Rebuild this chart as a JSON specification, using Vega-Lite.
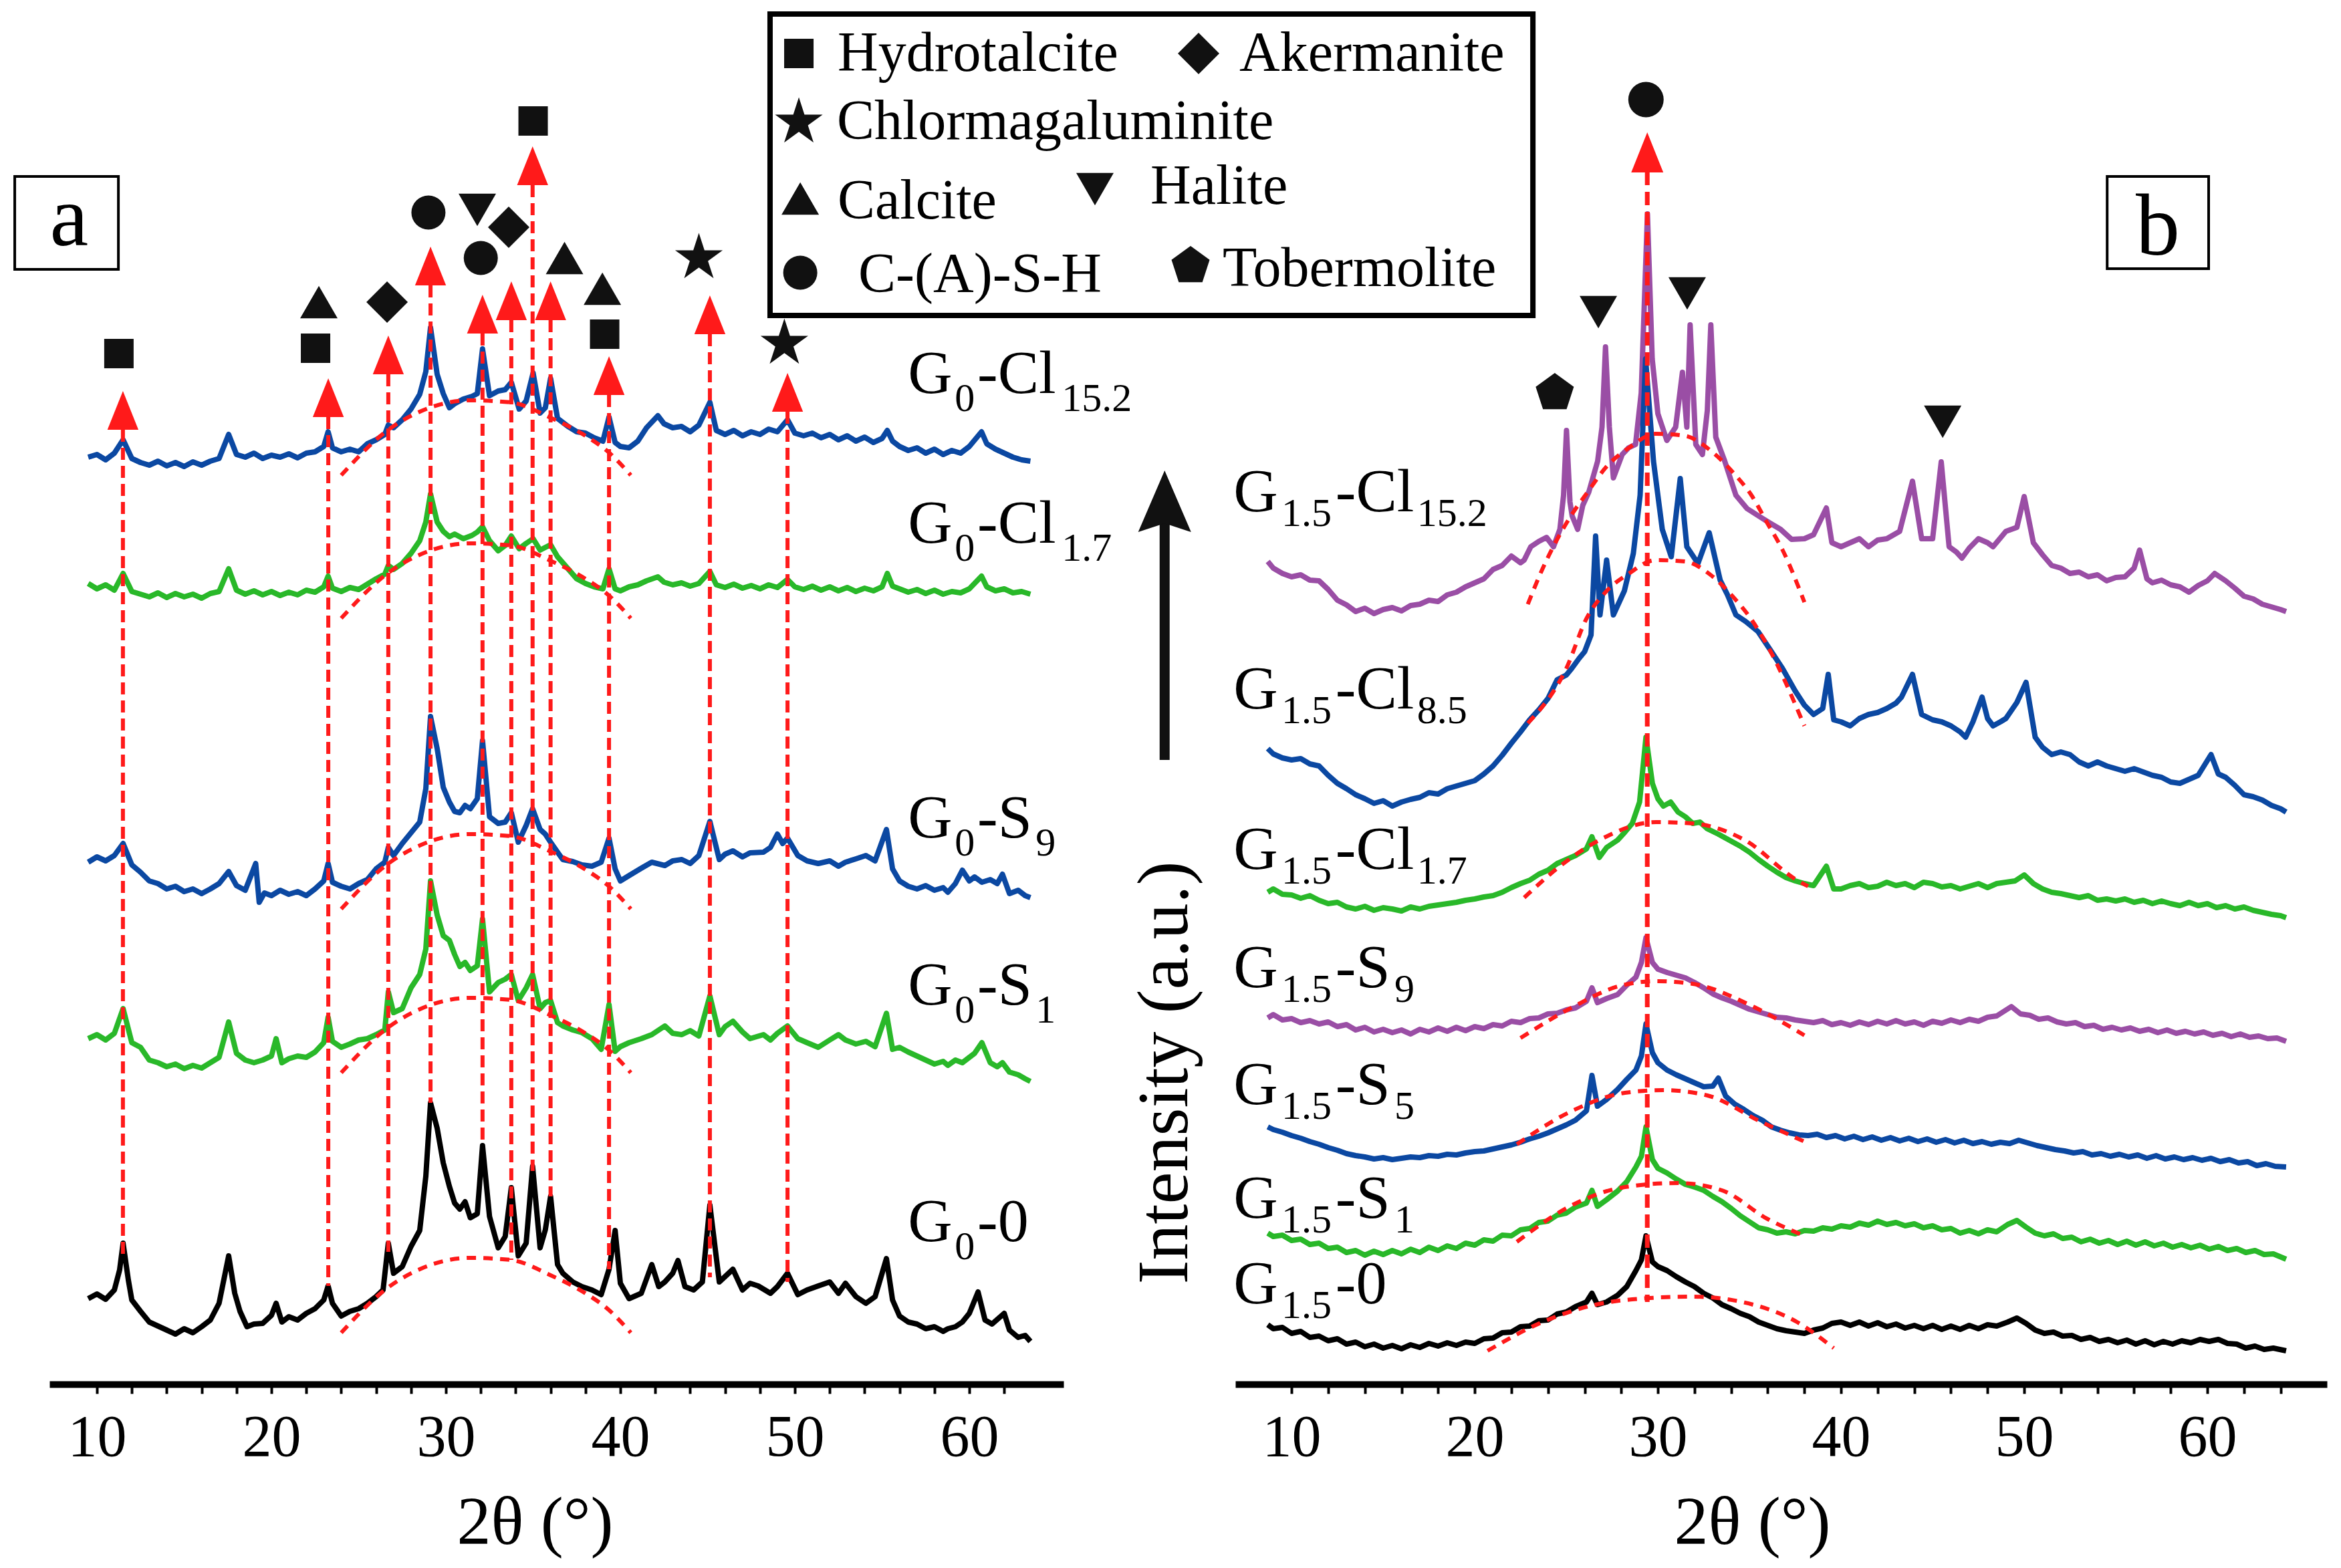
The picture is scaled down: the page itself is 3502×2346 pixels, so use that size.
{
  "$schema": "https://vega.github.io/schema/vega-lite/v6.json",
  "width": 3502,
  "height": 2071,
  "autosize": "none",
  "padding": {"left": 0, "top": 0, "right": 0, "bottom": 275},
  "background": "white",
  "config": {
    "view": {"stroke": null},
    "axis": {
      "domainColor": "black", "domainWidth": 10, "tickColor": "black", "tickWidth": 4, "tickSize": 14,
      "labelFont": "Liberation Serif", "labelFontSize": 88, "labelColor": "black", "labelPadding": 22,
      "labelFlush": false, "labelOverlap": false, "grid": false,
      "titleFont": "Liberation Serif", "titleFontSize": 102, "titleFontWeight": "normal", "titleColor": "black",
      "titleBaseline": "alphabetic", "titleY": 238
    },
    "text": {"font": "Liberation Serif", "color": "black"},
    "point": {"filled": true, "color": "#111111", "opacity": 1},
    "line": {"strokeWidth": 8, "strokeJoin": "round"}
  },
  "datasets": {
    "a1": [{"x":9.5,"y":1387},{"x":10,"y":1391},{"x":10.5,"y":1383},{"x":11,"y":1393},{"x":11.5,"y":1413},{"x":12,"y":1385},{"x":12.5,"y":1379},{"x":13,"y":1375},{"x":13.5,"y":1381},{"x":14,"y":1374},{"x":14.5,"y":1379},{"x":15,"y":1373},{"x":15.5,"y":1380},{"x":16,"y":1375},{"x":16.5,"y":1381},{"x":17,"y":1385},{"x":17.55,"y":1421},{"x":18,"y":1391},{"x":18.5,"y":1387},{"x":19,"y":1393},{"x":19.5,"y":1385},{"x":20,"y":1390},{"x":20.5,"y":1387},{"x":21,"y":1392},{"x":21.5,"y":1386},{"x":22,"y":1393},{"x":22.5,"y":1395},{"x":23,"y":1403},{"x":23.25,"y":1425},{"x":23.5,"y":1401},{"x":24,"y":1395},{"x":24.5,"y":1399},{"x":25,"y":1395},{"x":25.5,"y":1407},{"x":26,"y":1413},{"x":26.5,"y":1421},{"x":26.7,"y":1435},{"x":27,"y":1431},{"x":27.5,"y":1443},{"x":28,"y":1459},{"x":28.5,"y":1481},{"x":28.85,"y":1515},{"x":29.12,"y":1581},{"x":29.5,"y":1511},{"x":29.85,"y":1482},{"x":30.2,"y":1461},{"x":30.5,"y":1467},{"x":31,"y":1474},{"x":31.5,"y":1478},{"x":31.8,"y":1482},{"x":32.1,"y":1549},{"x":32.5,"y":1479},{"x":33,"y":1486},{"x":33.4,"y":1488},{"x":33.75,"y":1499},{"x":34.2,"y":1459},{"x":34.6,"y":1471},{"x":35,"y":1513},{"x":35.4,"y":1453},{"x":35.7,"y":1461},{"x":36,"y":1505},{"x":36.4,"y":1445},{"x":37,"y":1433},{"x":37.5,"y":1425},{"x":38,"y":1423},{"x":38.5,"y":1416},{"x":39,"y":1411},{"x":39.35,"y":1447},{"x":39.7,"y":1409},{"x":40,"y":1403},{"x":40.5,"y":1401},{"x":41,"y":1411},{"x":41.5,"y":1431},{"x":42.15,"y":1449},{"x":42.5,"y":1437},{"x":43,"y":1431},{"x":43.5,"y":1433},{"x":44,"y":1425},{"x":44.5,"y":1435},{"x":45.13,"y":1469},{"x":45.5,"y":1427},{"x":46,"y":1421},{"x":46.5,"y":1427},{"x":47,"y":1419},{"x":47.5,"y":1425},{"x":48,"y":1421},{"x":48.5,"y":1429},{"x":49,"y":1425},{"x":49.58,"y":1443},{"x":50,"y":1423},{"x":50.5,"y":1419},{"x":51,"y":1423},{"x":51.5,"y":1416},{"x":52,"y":1421},{"x":52.5,"y":1413},{"x":53,"y":1419},{"x":53.5,"y":1411},{"x":54,"y":1417},{"x":54.5,"y":1409},{"x":55,"y":1415},{"x":55.3,"y":1427},{"x":55.6,"y":1411},{"x":56,"y":1403},{"x":56.5,"y":1397},{"x":57,"y":1401},{"x":57.5,"y":1393},{"x":58,"y":1399},{"x":58.5,"y":1391},{"x":59,"y":1397},{"x":59.5,"y":1393},{"x":60,"y":1403},{"x":60.7,"y":1425},{"x":61,"y":1407},{"x":61.5,"y":1399},{"x":62,"y":1393},{"x":62.5,"y":1387},{"x":63,"y":1383},{"x":63.5,"y":1381}],
    "a2": [{"x":9.5,"y":1198},{"x":10,"y":1190},{"x":10.5,"y":1196},{"x":11,"y":1188},{"x":11.5,"y":1213},{"x":12,"y":1186},{"x":12.5,"y":1182},{"x":13,"y":1178},{"x":13.5,"y":1184},{"x":14,"y":1177},{"x":14.5,"y":1183},{"x":15,"y":1178},{"x":15.5,"y":1182},{"x":16,"y":1176},{"x":16.5,"y":1183},{"x":17,"y":1186},{"x":17.55,"y":1220},{"x":18,"y":1188},{"x":18.5,"y":1182},{"x":19,"y":1187},{"x":19.5,"y":1181},{"x":20,"y":1186},{"x":20.5,"y":1180},{"x":21,"y":1185},{"x":21.5,"y":1181},{"x":22,"y":1188},{"x":22.5,"y":1185},{"x":23,"y":1193},{"x":23.25,"y":1209},{"x":23.5,"y":1191},{"x":24,"y":1186},{"x":24.5,"y":1192},{"x":25,"y":1189},{"x":25.5,"y":1197},{"x":26,"y":1205},{"x":26.5,"y":1212},{"x":26.7,"y":1225},{"x":27,"y":1219},{"x":27.5,"y":1228},{"x":28,"y":1243},{"x":28.5,"y":1262},{"x":28.85,"y":1290},{"x":29.12,"y":1332},{"x":29.5,"y":1290},{"x":29.85,"y":1276},{"x":30.2,"y":1268},{"x":30.5,"y":1272},{"x":31,"y":1265},{"x":31.5,"y":1270},{"x":31.8,"y":1275},{"x":32.1,"y":1283},{"x":32.5,"y":1262},{"x":33,"y":1247},{"x":33.4,"y":1255},{"x":33.75,"y":1269},{"x":34.2,"y":1250},{"x":34.6,"y":1258},{"x":35,"y":1265},{"x":35.4,"y":1248},{"x":35.7,"y":1252},{"x":36,"y":1256},{"x":36.4,"y":1238},{"x":37,"y":1220},{"x":37.5,"y":1205},{"x":38,"y":1198},{"x":38.5,"y":1193},{"x":39,"y":1190},{"x":39.35,"y":1220},{"x":39.7,"y":1190},{"x":40,"y":1187},{"x":40.5,"y":1193},{"x":41,"y":1196},{"x":41.5,"y":1202},{"x":42.15,"y":1208},{"x":42.5,"y":1200},{"x":43,"y":1196},{"x":43.5,"y":1199},{"x":44,"y":1194},{"x":44.5,"y":1198},{"x":45.13,"y":1216},{"x":45.5,"y":1196},{"x":46,"y":1192},{"x":46.5,"y":1197},{"x":47,"y":1191},{"x":47.5,"y":1195},{"x":48,"y":1190},{"x":48.5,"y":1196},{"x":49,"y":1192},{"x":49.58,"y":1204},{"x":50,"y":1193},{"x":50.5,"y":1189},{"x":51,"y":1194},{"x":51.5,"y":1188},{"x":52,"y":1193},{"x":52.5,"y":1187},{"x":53,"y":1192},{"x":53.5,"y":1186},{"x":54,"y":1191},{"x":54.5,"y":1187},{"x":55,"y":1193},{"x":55.3,"y":1213},{"x":55.6,"y":1194},{"x":56,"y":1190},{"x":56.5,"y":1185},{"x":57,"y":1189},{"x":57.5,"y":1183},{"x":58,"y":1188},{"x":58.5,"y":1182},{"x":59,"y":1186},{"x":59.5,"y":1184},{"x":60,"y":1190},{"x":60.7,"y":1209},{"x":61,"y":1193},{"x":61.5,"y":1187},{"x":62,"y":1190},{"x":62.5,"y":1184},{"x":63,"y":1186},{"x":63.5,"y":1182}],
    "a3": [{"x":9.5,"y":781},{"x":10,"y":789},{"x":10.5,"y":783},{"x":11,"y":791},{"x":11.5,"y":809},{"x":12,"y":777},{"x":12.5,"y":766},{"x":13,"y":753},{"x":13.5,"y":749},{"x":14,"y":741},{"x":14.5,"y":745},{"x":15,"y":737},{"x":15.5,"y":741},{"x":16,"y":734},{"x":16.5,"y":741},{"x":17,"y":749},{"x":17.55,"y":767},{"x":18,"y":746},{"x":18.5,"y":739},{"x":19.1,"y":779},{"x":19.3,"y":721},{"x":19.6,"y":735},{"x":20,"y":731},{"x":20.5,"y":739},{"x":21,"y":733},{"x":21.5,"y":737},{"x":22,"y":731},{"x":22.5,"y":741},{"x":23,"y":753},{"x":23.25,"y":779},{"x":23.5,"y":751},{"x":24,"y":745},{"x":24.5,"y":741},{"x":25,"y":749},{"x":25.5,"y":755},{"x":26,"y":771},{"x":26.5,"y":781},{"x":26.7,"y":803},{"x":27,"y":791},{"x":27.5,"y":809},{"x":28,"y":825},{"x":28.5,"y":841},{"x":28.85,"y":891},{"x":29.12,"y":999},{"x":29.5,"y":951},{"x":29.85,"y":893},{"x":30.2,"y":871},{"x":30.5,"y":857},{"x":30.8,"y":855},{"x":31.1,"y":866},{"x":31.4,"y":861},{"x":31.8,"y":876},{"x":32.1,"y":963},{"x":32.5,"y":849},{"x":33,"y":839},{"x":33.4,"y":841},{"x":33.75,"y":855},{"x":34.15,"y":811},{"x":34.6,"y":836},{"x":34.97,"y":861},{"x":35.4,"y":830},{"x":35.7,"y":823},{"x":36,"y":811},{"x":36.4,"y":796},{"x":36.7,"y":785},{"x":37.27,"y":782},{"x":37.8,"y":777},{"x":38.37,"y":775},{"x":38.9,"y":781},{"x":39.35,"y":817},{"x":39.7,"y":771},{"x":40,"y":753},{"x":40.5,"y":761},{"x":41.2,"y":772},{"x":41.8,"y":781},{"x":42.55,"y":776},{"x":43,"y":783},{"x":43.52,"y":785},{"x":44,"y":779},{"x":44.5,"y":791},{"x":45.13,"y":842},{"x":45.67,"y":785},{"x":46,"y":793},{"x":46.45,"y":798},{"x":47,"y":789},{"x":47.43,"y":795},{"x":48.2,"y":796},{"x":48.6,"y":803},{"x":49,"y":823},{"x":49.3,"y":809},{"x":49.58,"y":817},{"x":50.17,"y":791},{"x":50.7,"y":783},{"x":51.34,"y":779},{"x":52,"y":783},{"x":52.5,"y":775},{"x":52.9,"y":781},{"x":53.5,"y":786},{"x":54.07,"y":791},{"x":54.6,"y":783},{"x":55.25,"y":830},{"x":55.6,"y":771},{"x":56,"y":753},{"x":56.5,"y":745},{"x":57,"y":741},{"x":57.5,"y":746},{"x":58,"y":739},{"x":58.5,"y":743},{"x":58.77,"y":736},{"x":59.2,"y":749},{"x":59.6,"y":769},{"x":60,"y":753},{"x":60.3,"y":759},{"x":60.72,"y":751},{"x":61.2,"y":755},{"x":61.6,"y":749},{"x":61.9,"y":763},{"x":62.3,"y":734},{"x":62.8,"y":739},{"x":63.2,"y":731},{"x":63.5,"y":728}],
    "a4": [{"x":9.5,"y":517},{"x":10,"y":523},{"x":10.5,"y":515},{"x":11,"y":525},{"x":11.5,"y":562},{"x":12,"y":511},{"x":12.5,"y":504},{"x":13,"y":485},{"x":13.5,"y":481},{"x":14,"y":475},{"x":14.5,"y":479},{"x":15,"y":472},{"x":15.5,"y":477},{"x":16,"y":473},{"x":16.5,"y":481},{"x":17,"y":489},{"x":17.55,"y":542},{"x":18,"y":495},{"x":18.5,"y":485},{"x":19,"y":481},{"x":19.5,"y":485},{"x":20,"y":491},{"x":20.27,"y":517},{"x":20.6,"y":481},{"x":21,"y":487},{"x":21.5,"y":491},{"x":22,"y":489},{"x":22.5,"y":497},{"x":23,"y":511},{"x":23.25,"y":549},{"x":23.5,"y":513},{"x":24,"y":504},{"x":24.5,"y":509},{"x":25,"y":515},{"x":25.5,"y":517},{"x":26,"y":523},{"x":26.5,"y":530},{"x":26.7,"y":587},{"x":27,"y":556},{"x":27.5,"y":562},{"x":28,"y":593},{"x":28.5,"y":613},{"x":28.85,"y":651},{"x":29.12,"y":753},{"x":29.5,"y":702},{"x":29.85,"y":671},{"x":30.2,"y":664},{"x":30.5,"y":643},{"x":30.8,"y":625},{"x":31.1,"y":631},{"x":31.4,"y":619},{"x":31.8,"y":626},{"x":32.1,"y":696},{"x":32.5,"y":587},{"x":33,"y":601},{"x":33.4,"y":606},{"x":33.75,"y":613},{"x":34.15,"y":574},{"x":34.6,"y":593},{"x":34.97,"y":613},{"x":35.4,"y":562},{"x":35.7,"y":571},{"x":36,"y":574},{"x":36.4,"y":541},{"x":36.7,"y":536},{"x":37.27,"y":530},{"x":37.8,"y":526},{"x":38.37,"y":517},{"x":38.9,"y":501},{"x":39.35,"y":568},{"x":39.7,"y":498},{"x":40,"y":505},{"x":40.5,"y":511},{"x":41.2,"y":517},{"x":41.8,"y":523},{"x":42.55,"y":536},{"x":43,"y":525},{"x":43.52,"y":523},{"x":44,"y":529},{"x":44.5,"y":521},{"x":45.13,"y":581},{"x":45.67,"y":523},{"x":46,"y":535},{"x":46.45,"y":543},{"x":47,"y":527},{"x":47.43,"y":517},{"x":48.2,"y":523},{"x":48.6,"y":515},{"x":49,"y":525},{"x":49.58,"y":536},{"x":50.17,"y":517},{"x":50.7,"y":511},{"x":51.34,"y":504},{"x":52,"y":515},{"x":52.5,"y":523},{"x":52.9,"y":515},{"x":53.5,"y":509},{"x":54.07,"y":513},{"x":54.6,"y":505},{"x":55.25,"y":555},{"x":55.6,"y":501},{"x":56,"y":504},{"x":56.5,"y":497},{"x":57,"y":491},{"x":57.5,"y":485},{"x":58,"y":479},{"x":58.5,"y":483},{"x":58.77,"y":477},{"x":59.2,"y":485},{"x":59.6,"y":481},{"x":60,"y":489},{"x":60.3,"y":495},{"x":60.72,"y":511},{"x":61.2,"y":481},{"x":61.6,"y":475},{"x":61.9,"y":481},{"x":62.3,"y":467},{"x":62.8,"y":463},{"x":63.2,"y":457},{"x":63.5,"y":453}],
    "a5": [{"x":9.5,"y":128},{"x":10,"y":135},{"x":10.5,"y":127},{"x":11,"y":141},{"x":11.3,"y":171},{"x":11.5,"y":211},{"x":11.8,"y":156},{"x":12,"y":126},{"x":12.5,"y":109},{"x":13,"y":93},{"x":13.5,"y":87},{"x":14,"y":81},{"x":14.5,"y":75},{"x":15,"y":83},{"x":15.5,"y":77},{"x":16,"y":86},{"x":16.5,"y":96},{"x":17,"y":121},{"x":17.55,"y":192},{"x":17.9,"y":136},{"x":18.2,"y":109},{"x":18.6,"y":86},{"x":19,"y":90},{"x":19.5,"y":91},{"x":20,"y":103},{"x":20.27,"y":121},{"x":20.6,"y":93},{"x":21,"y":101},{"x":21.5,"y":96},{"x":22,"y":106},{"x":22.5,"y":113},{"x":23,"y":126},{"x":23.25,"y":147},{"x":23.5,"y":121},{"x":24,"y":102},{"x":24.5,"y":109},{"x":25,"y":113},{"x":25.5,"y":121},{"x":26,"y":131},{"x":26.4,"y":141},{"x":26.7,"y":211},{"x":27,"y":166},{"x":27.5,"y":176},{"x":28,"y":206},{"x":28.5,"y":230},{"x":28.85,"y":311},{"x":29.12,"y":421},{"x":29.5,"y":383},{"x":29.85,"y":331},{"x":30.2,"y":296},{"x":30.5,"y":271},{"x":30.8,"y":262},{"x":31.1,"y":273},{"x":31.4,"y":249},{"x":31.8,"y":255},{"x":32.1,"y":357},{"x":32.5,"y":251},{"x":33,"y":204},{"x":33.4,"y":221},{"x":33.75,"y":294},{"x":34.15,"y":192},{"x":34.6,"y":211},{"x":34.97,"y":326},{"x":35.4,"y":204},{"x":35.7,"y":231},{"x":36,"y":281},{"x":36.4,"y":179},{"x":36.7,"y":166},{"x":37.27,"y":153},{"x":37.8,"y":146},{"x":38.37,"y":141},{"x":38.9,"y":134},{"x":39.35,"y":172},{"x":39.7,"y":230},{"x":40,"y":151},{"x":40.5,"y":128},{"x":41.2,"y":136},{"x":41.8,"y":179},{"x":42.2,"y":146},{"x":42.55,"y":153},{"x":43,"y":166},{"x":43.3,"y":185},{"x":43.7,"y":146},{"x":44.2,"y":141},{"x":44.7,"y":153},{"x":45.13,"y":268},{"x":45.67,"y":153},{"x":46,"y":161},{"x":46.45,"y":172},{"x":47,"y":141},{"x":47.43,"y":151},{"x":47.9,"y":147},{"x":48.6,"y":136},{"x":49,"y":146},{"x":49.58,"y":166},{"x":50.17,"y":134},{"x":50.7,"y":141},{"x":51.34,"y":147},{"x":52,"y":153},{"x":52.5,"y":136},{"x":52.9,"y":151},{"x":53.5,"y":131},{"x":54.07,"y":121},{"x":54.6,"y":131},{"x":55.25,"y":188},{"x":55.6,"y":126},{"x":56,"y":102},{"x":56.5,"y":93},{"x":57,"y":90},{"x":57.5,"y":83},{"x":58,"y":86},{"x":58.5,"y":79},{"x":58.77,"y":83},{"x":59.2,"y":86},{"x":59.6,"y":93},{"x":60,"y":106},{"x":60.5,"y":138},{"x":60.9,"y":96},{"x":61.3,"y":90},{"x":62,"y":106},{"x":62.3,"y":81},{"x":62.8,"y":70},{"x":63.2,"y":73},{"x":63.5,"y":64}],
    "b1": [{"x":8.7,"y":1231},{"x":9,"y":1221},{"x":9.5,"y":1213},{"x":10,"y":1208},{"x":10.5,"y":1211},{"x":11,"y":1203},{"x":11.5,"y":1202},{"x":12,"y":1189},{"x":12.5,"y":1173},{"x":13,"y":1166},{"x":13.5,"y":1156},{"x":14,"y":1161},{"x":14.5,"y":1153},{"x":15,"y":1159},{"x":15.5,"y":1162},{"x":16,"y":1157},{"x":16.5,"y":1165},{"x":17,"y":1167},{"x":17.5,"y":1173},{"x":18,"y":1171},{"x":18.5,"y":1181},{"x":19,"y":1185},{"x":19.5,"y":1193},{"x":20,"y":1199},{"x":20.5,"y":1205},{"x":21,"y":1219},{"x":21.5,"y":1225},{"x":22,"y":1239},{"x":22.5,"y":1229},{"x":22.7,"y":1233},{"x":23.06,"y":1253},{"x":23.5,"y":1261},{"x":23.92,"y":1267},{"x":24.3,"y":1253},{"x":24.65,"y":1279},{"x":24.85,"y":1330},{"x":25.01,"y":1427},{"x":25.2,"y":1320},{"x":25.32,"y":1299},{"x":25.62,"y":1279},{"x":25.9,"y":1315},{"x":26.23,"y":1335},{"x":26.5,"y":1361},{"x":26.71,"y":1381},{"x":26.95,"y":1432},{"x":27.14,"y":1552},{"x":27.35,"y":1432},{"x":27.57,"y":1356},{"x":28.05,"y":1391},{"x":28.4,"y":1401},{"x":28.78,"y":1406},{"x":29.09,"y":1483},{"x":29.43,"y":1751},{"x":29.69,"y":1534},{"x":30,"y":1452},{"x":30.49,"y":1412},{"x":30.97,"y":1432},{"x":31.34,"y":1514},{"x":31.58,"y":1432},{"x":31.76,"y":1585},{"x":32.07,"y":1406},{"x":32.43,"y":1391},{"x":32.7,"y":1457},{"x":32.89,"y":1585},{"x":33.16,"y":1417},{"x":33.65,"y":1381},{"x":34.26,"y":1330},{"x":34.87,"y":1310},{"x":35.5,"y":1299},{"x":36.08,"y":1289},{"x":36.7,"y":1279},{"x":37.3,"y":1264},{"x":38,"y":1265},{"x":38.5,"y":1271},{"x":39.2,"y":1311},{"x":39.5,"y":1259},{"x":40,"y":1253},{"x":40.5,"y":1259},{"x":41,"y":1265},{"x":41.5,"y":1253},{"x":42,"y":1263},{"x":42.5,"y":1265},{"x":43.2,"y":1276},{"x":43.9,"y":1351},{"x":44.4,"y":1265},{"x":45,"y":1265},{"x":45.47,"y":1380},{"x":45.9,"y":1253},{"x":46.3,"y":1245},{"x":46.6,"y":1236},{"x":47,"y":1251},{"x":47.5,"y":1265},{"x":48,"y":1259},{"x":48.3,"y":1253},{"x":49,"y":1276},{"x":49.6,"y":1282},{"x":50,"y":1328},{"x":50.5,"y":1259},{"x":51,"y":1241},{"x":51.5,"y":1225},{"x":52,"y":1221},{"x":52.5,"y":1213},{"x":53,"y":1215},{"x":53.5,"y":1208},{"x":54,"y":1211},{"x":54.5,"y":1202},{"x":55,"y":1207},{"x":55.5,"y":1208},{"x":56,"y":1221},{"x":56.3,"y":1248},{"x":56.7,"y":1205},{"x":57,"y":1199},{"x":57.5,"y":1203},{"x":58,"y":1196},{"x":58.5,"y":1193},{"x":59,"y":1185},{"x":59.5,"y":1195},{"x":60,"y":1202},{"x":60.4,"y":1213},{"x":61,"y":1202},{"x":61.5,"y":1191},{"x":62,"y":1179},{"x":62.5,"y":1175},{"x":63,"y":1167},{"x":63.5,"y":1163},{"x":64,"y":1159},{"x":64.3,"y":1156}],
    "b2": [{"x":8.7,"y":951},{"x":9,"y":943},{"x":9.5,"y":937},{"x":10,"y":934},{"x":10.5,"y":936},{"x":11,"y":928},{"x":11.5,"y":925},{"x":12,"y":911},{"x":12.5,"y":899},{"x":13,"y":891},{"x":13.5,"y":882},{"x":14,"y":876},{"x":14.5,"y":869},{"x":15,"y":873},{"x":15.5,"y":865},{"x":16,"y":871},{"x":16.5,"y":875},{"x":17,"y":878},{"x":17.5,"y":885},{"x":18,"y":883},{"x":18.5,"y":891},{"x":19,"y":895},{"x":19.5,"y":899},{"x":20,"y":903},{"x":20.5,"y":913},{"x":21,"y":925},{"x":21.5,"y":941},{"x":22,"y":959},{"x":22.5,"y":976},{"x":23,"y":994},{"x":23.5,"y":1009},{"x":24,"y":1026},{"x":24.5,"y":1054},{"x":25,"y":1061},{"x":25.3,"y":1071},{"x":25.7,"y":1086},{"x":26,"y":1096},{"x":26.35,"y":1121},{"x":26.6,"y":1269},{"x":26.84,"y":1151},{"x":27.2,"y":1233},{"x":27.57,"y":1151},{"x":28.17,"y":1187},{"x":28.66,"y":1243},{"x":29.03,"y":1330},{"x":29.33,"y":1534},{"x":29.76,"y":1381},{"x":30.24,"y":1279},{"x":30.73,"y":1238},{"x":31.22,"y":1355},{"x":31.58,"y":1253},{"x":32.19,"y":1228},{"x":32.8,"y":1274},{"x":33.4,"y":1203},{"x":33.8,"y":1181},{"x":34.26,"y":1151},{"x":34.8,"y":1141},{"x":35.47,"y":1126},{"x":36.08,"y":1101},{"x":36.8,"y":1071},{"x":37.5,"y":1037},{"x":38,"y":1016},{"x":38.5,"y":1002},{"x":39,"y":1011},{"x":39.3,"y":1062},{"x":39.6,"y":994},{"x":40,"y":991},{"x":40.5,"y":985},{"x":41,"y":996},{"x":41.5,"y":1002},{"x":42,"y":1005},{"x":42.5,"y":1011},{"x":43,"y":1019},{"x":43.3,"y":1028},{"x":43.9,"y":1062},{"x":44.4,"y":1002},{"x":45,"y":994},{"x":45.5,"y":991},{"x":46,"y":985},{"x":46.5,"y":976},{"x":46.8,"y":968},{"x":47.2,"y":991},{"x":47.7,"y":1028},{"x":48,"y":996},{"x":48.3,"y":985},{"x":48.7,"y":991},{"x":49,"y":996},{"x":49.6,"y":1020},{"x":50.1,"y":1050},{"x":50.6,"y":968},{"x":51,"y":953},{"x":51.5,"y":942},{"x":52,"y":946},{"x":52.5,"y":942},{"x":53,"y":931},{"x":53.5,"y":925},{"x":54,"y":931},{"x":54.5,"y":925},{"x":55,"y":921},{"x":55.5,"y":917},{"x":56,"y":921},{"x":56.5,"y":916},{"x":57,"y":911},{"x":57.5,"y":908},{"x":58,"y":901},{"x":58.5,"y":899},{"x":59,"y":905},{"x":59.5,"y":911},{"x":60.2,"y":942},{"x":60.6,"y":913},{"x":61,"y":908},{"x":61.5,"y":896},{"x":62,"y":882},{"x":62.5,"y":879},{"x":63,"y":874},{"x":63.5,"y":866},{"x":64,"y":861},{"x":64.3,"y":856}],
    "b3": [{"x":8.7,"y":736},{"x":9,"y":741},{"x":9.5,"y":733},{"x":10,"y":732},{"x":10.5,"y":727},{"x":11,"y":731},{"x":11.5,"y":724},{"x":12,"y":719},{"x":12.5,"y":721},{"x":13,"y":714},{"x":13.5,"y":711},{"x":14,"y":715},{"x":14.5,"y":709},{"x":15,"y":713},{"x":15.5,"y":711},{"x":16,"y":708},{"x":16.5,"y":714},{"x":17,"y":711},{"x":17.5,"y":715},{"x":18,"y":717},{"x":18.5,"y":719},{"x":19,"y":721},{"x":19.5,"y":724},{"x":20,"y":726},{"x":20.5,"y":729},{"x":21,"y":731},{"x":21.5,"y":736},{"x":22,"y":743},{"x":22.5,"y":749},{"x":23,"y":754},{"x":23.5,"y":763},{"x":24,"y":769},{"x":24.5,"y":779},{"x":25,"y":785},{"x":25.5,"y":791},{"x":25.8,"y":796},{"x":26.1,"y":801},{"x":26.4,"y":819},{"x":26.8,"y":788},{"x":27.2,"y":803},{"x":27.8,"y":814},{"x":28.2,"y":826},{"x":28.6,"y":839},{"x":29,"y":871},{"x":29.35,"y":968},{"x":29.7,"y":899},{"x":30,"y":876},{"x":30.3,"y":865},{"x":30.7,"y":871},{"x":31.1,"y":856},{"x":31.5,"y":849},{"x":31.9,"y":839},{"x":32.3,"y":841},{"x":32.7,"y":831},{"x":33.3,"y":823},{"x":33.9,"y":814},{"x":34.5,"y":805},{"x":35,"y":796},{"x":35.5,"y":785},{"x":36,"y":775},{"x":36.5,"y":766},{"x":37,"y":758},{"x":37.5,"y":753},{"x":38,"y":749},{"x":38.5,"y":746},{"x":39.2,"y":775},{"x":39.6,"y":741},{"x":40,"y":741},{"x":40.5,"y":746},{"x":41,"y":749},{"x":41.5,"y":743},{"x":42,"y":745},{"x":42.5,"y":751},{"x":43,"y":746},{"x":43.5,"y":749},{"x":44,"y":743},{"x":44.5,"y":751},{"x":45,"y":749},{"x":45.5,"y":744},{"x":46,"y":746},{"x":46.5,"y":741},{"x":47,"y":745},{"x":47.5,"y":749},{"x":48,"y":743},{"x":48.5,"y":749},{"x":49,"y":751},{"x":49.5,"y":753},{"x":50,"y":762},{"x":50.5,"y":749},{"x":51,"y":741},{"x":51.5,"y":736},{"x":52,"y":734},{"x":52.5,"y":731},{"x":53,"y":728},{"x":53.5,"y":731},{"x":54,"y":724},{"x":54.5,"y":726},{"x":55,"y":723},{"x":55.5,"y":726},{"x":56,"y":721},{"x":56.5,"y":724},{"x":57,"y":719},{"x":57.5,"y":723},{"x":58,"y":719},{"x":58.5,"y":716},{"x":59,"y":721},{"x":59.5,"y":716},{"x":60,"y":719},{"x":60.5,"y":713},{"x":61,"y":716},{"x":61.5,"y":711},{"x":62,"y":714},{"x":62.5,"y":709},{"x":63,"y":706},{"x":63.5,"y":703},{"x":64,"y":701},{"x":64.3,"y":698}],
    "b4": [{"x":8.7,"y":548},{"x":9,"y":553},{"x":9.5,"y":545},{"x":10,"y":547},{"x":10.5,"y":541},{"x":11,"y":544},{"x":11.5,"y":539},{"x":12,"y":542},{"x":12.5,"y":535},{"x":13,"y":538},{"x":13.5,"y":530},{"x":14,"y":534},{"x":14.5,"y":527},{"x":15,"y":531},{"x":15.5,"y":526},{"x":16,"y":530},{"x":16.5,"y":524},{"x":17,"y":531},{"x":17.5,"y":527},{"x":18,"y":533},{"x":18.5,"y":528},{"x":19,"y":534},{"x":19.5,"y":529},{"x":20,"y":535},{"x":20.5,"y":532},{"x":21,"y":538},{"x":21.5,"y":536},{"x":22,"y":543},{"x":22.5,"y":541},{"x":23,"y":547},{"x":23.5,"y":548},{"x":24,"y":554},{"x":24.5,"y":555},{"x":25,"y":560},{"x":25.5,"y":563},{"x":26.1,"y":573},{"x":26.4,"y":593},{"x":26.7,"y":571},{"x":27.2,"y":577},{"x":27.8,"y":583},{"x":28.3,"y":597},{"x":28.8,"y":609},{"x":29.1,"y":631},{"x":29.35,"y":668},{"x":29.7,"y":631},{"x":30,"y":621},{"x":30.5,"y":616},{"x":31,"y":612},{"x":31.5,"y":608},{"x":32,"y":601},{"x":32.5,"y":593},{"x":33,"y":584},{"x":33.5,"y":578},{"x":34,"y":573},{"x":34.5,"y":567},{"x":35,"y":561},{"x":35.5,"y":557},{"x":36,"y":553},{"x":36.5,"y":549},{"x":37,"y":548},{"x":37.5,"y":545},{"x":38,"y":543},{"x":38.5,"y":541},{"x":39,"y":544},{"x":39.5,"y":538},{"x":40,"y":541},{"x":40.5,"y":537},{"x":41,"y":542},{"x":41.5,"y":538},{"x":42,"y":543},{"x":42.5,"y":539},{"x":43,"y":544},{"x":43.5,"y":539},{"x":44,"y":542},{"x":44.5,"y":537},{"x":45,"y":543},{"x":45.5,"y":540},{"x":46,"y":545},{"x":46.5,"y":541},{"x":47,"y":546},{"x":47.5,"y":543},{"x":48,"y":549},{"x":48.5,"y":551},{"x":49.3,"y":565},{"x":49.8,"y":554},{"x":50.3,"y":552},{"x":50.8,"y":546},{"x":51.3,"y":548},{"x":51.8,"y":542},{"x":52.3,"y":539},{"x":52.8,"y":541},{"x":53.3,"y":535},{"x":53.8,"y":537},{"x":54.3,"y":531},{"x":54.8,"y":534},{"x":55.3,"y":530},{"x":55.8,"y":533},{"x":56.3,"y":528},{"x":56.8,"y":531},{"x":57.3,"y":526},{"x":57.8,"y":530},{"x":58.3,"y":525},{"x":58.8,"y":528},{"x":59.3,"y":524},{"x":59.8,"y":527},{"x":60.3,"y":522},{"x":60.8,"y":525},{"x":61.3,"y":520},{"x":61.8,"y":524},{"x":62.3,"y":519},{"x":62.8,"y":521},{"x":63.3,"y":517},{"x":63.8,"y":518},{"x":64.3,"y":513}],
    "b5": [{"x":8.7,"y":385},{"x":9,"y":381},{"x":9.5,"y":377},{"x":10,"y":372},{"x":10.5,"y":368},{"x":11,"y":363},{"x":11.5,"y":359},{"x":12,"y":354},{"x":12.5,"y":350},{"x":13,"y":345},{"x":13.5,"y":342},{"x":14,"y":340},{"x":14.5,"y":337},{"x":15,"y":339},{"x":15.5,"y":336},{"x":16,"y":338},{"x":16.5,"y":340},{"x":17,"y":339},{"x":17.5,"y":342},{"x":18,"y":341},{"x":18.5,"y":344},{"x":19,"y":343},{"x":19.5,"y":346},{"x":20,"y":348},{"x":20.5,"y":349},{"x":21,"y":352},{"x":21.5,"y":355},{"x":22,"y":358},{"x":22.5,"y":362},{"x":23,"y":367},{"x":23.5,"y":371},{"x":24,"y":376},{"x":24.5,"y":382},{"x":25,"y":388},{"x":25.5,"y":395},{"x":26.1,"y":409},{"x":26.4,"y":462},{"x":26.7,"y":416},{"x":27.2,"y":426},{"x":27.8,"y":441},{"x":28.3,"y":456},{"x":28.8,"y":470},{"x":29.1,"y":491},{"x":29.35,"y":539},{"x":29.7,"y":496},{"x":30,"y":481},{"x":30.5,"y":470},{"x":31,"y":463},{"x":31.5,"y":457},{"x":32,"y":451},{"x":32.5,"y":445},{"x":33,"y":446},{"x":33.3,"y":458},{"x":33.7,"y":431},{"x":34.2,"y":419},{"x":34.7,"y":411},{"x":35.2,"y":402},{"x":35.7,"y":395},{"x":36.2,"y":385},{"x":36.7,"y":380},{"x":37.2,"y":376},{"x":37.7,"y":373},{"x":38.2,"y":372},{"x":38.7,"y":374},{"x":39.2,"y":369},{"x":39.7,"y":372},{"x":40.2,"y":367},{"x":40.7,"y":371},{"x":41.2,"y":366},{"x":41.7,"y":370},{"x":42.2,"y":365},{"x":42.7,"y":369},{"x":43.2,"y":364},{"x":43.7,"y":368},{"x":44.2,"y":363},{"x":44.7,"y":367},{"x":45.2,"y":362},{"x":45.7,"y":366},{"x":46.2,"y":361},{"x":46.7,"y":365},{"x":47.2,"y":360},{"x":47.7,"y":363},{"x":48.2,"y":359},{"x":48.7,"y":362},{"x":49.2,"y":360},{"x":49.7,"y":365},{"x":50.2,"y":361},{"x":50.7,"y":357},{"x":51.2,"y":354},{"x":51.7,"y":351},{"x":52.2,"y":349},{"x":52.7,"y":346},{"x":53.2,"y":348},{"x":53.7,"y":343},{"x":54.2,"y":345},{"x":54.7,"y":341},{"x":55.2,"y":344},{"x":55.7,"y":340},{"x":56.2,"y":343},{"x":56.7,"y":338},{"x":57.2,"y":342},{"x":57.7,"y":337},{"x":58.2,"y":340},{"x":58.7,"y":336},{"x":59.2,"y":339},{"x":59.7,"y":335},{"x":60.2,"y":338},{"x":60.7,"y":333},{"x":61.2,"y":336},{"x":61.7,"y":331},{"x":62.2,"y":333},{"x":62.7,"y":327},{"x":63.2,"y":330},{"x":63.7,"y":326},{"x":64.3,"y":325}],
    "b6": [{"x":8.7,"y":226},{"x":9,"y":221},{"x":9.5,"y":223},{"x":10,"y":215},{"x":10.5,"y":217},{"x":11,"y":209},{"x":11.5,"y":211},{"x":12,"y":203},{"x":12.5,"y":205},{"x":13,"y":197},{"x":13.5,"y":200},{"x":14,"y":193},{"x":14.5,"y":199},{"x":15,"y":194},{"x":15.5,"y":200},{"x":16,"y":195},{"x":16.5,"y":202},{"x":17,"y":197},{"x":17.5,"y":205},{"x":18,"y":200},{"x":18.5,"y":207},{"x":19,"y":203},{"x":19.5,"y":211},{"x":20,"y":208},{"x":20.5,"y":216},{"x":21,"y":214},{"x":21.5,"y":223},{"x":22,"y":222},{"x":22.5,"y":231},{"x":23,"y":233},{"x":23.5,"y":242},{"x":24,"y":244},{"x":24.5,"y":253},{"x":25,"y":256},{"x":25.5,"y":265},{"x":26.1,"y":271},{"x":26.4,"y":290},{"x":26.7,"y":266},{"x":27.2,"y":276},{"x":27.8,"y":289},{"x":28.3,"y":303},{"x":28.8,"y":325},{"x":29.1,"y":341},{"x":29.35,"y":385},{"x":29.7,"y":336},{"x":30,"y":323},{"x":30.5,"y":316},{"x":31,"y":307},{"x":31.5,"y":299},{"x":32,"y":295},{"x":32.5,"y":290},{"x":33,"y":281},{"x":33.5,"y":273},{"x":34,"y":263},{"x":34.5,"y":252},{"x":35,"y":243},{"x":35.5,"y":234},{"x":36,"y":231},{"x":36.5,"y":226},{"x":37,"y":228},{"x":37.5,"y":225},{"x":38,"y":230},{"x":38.5,"y":229},{"x":39,"y":234},{"x":39.5,"y":232},{"x":40,"y":237},{"x":40.5,"y":235},{"x":41,"y":241},{"x":41.5,"y":238},{"x":42,"y":244},{"x":42.5,"y":239},{"x":43,"y":242},{"x":43.5,"y":237},{"x":44,"y":240},{"x":44.5,"y":234},{"x":45,"y":237},{"x":45.5,"y":231},{"x":46,"y":233},{"x":46.5,"y":226},{"x":47,"y":230},{"x":47.5,"y":225},{"x":48,"y":231},{"x":48.5,"y":228},{"x":49.1,"y":239},{"x":49.6,"y":245},{"x":50.1,"y":235},{"x":50.6,"y":226},{"x":51.1,"y":222},{"x":51.6,"y":225},{"x":52.1,"y":218},{"x":52.6,"y":220},{"x":53.1,"y":213},{"x":53.6,"y":217},{"x":54.1,"y":211},{"x":54.6,"y":215},{"x":55.1,"y":209},{"x":55.6,"y":214},{"x":56.1,"y":208},{"x":56.6,"y":213},{"x":57.1,"y":207},{"x":57.6,"y":211},{"x":58.1,"y":205},{"x":58.6,"y":209},{"x":59.1,"y":204},{"x":59.6,"y":208},{"x":60.1,"y":202},{"x":60.6,"y":206},{"x":61.1,"y":200},{"x":61.6,"y":203},{"x":62.1,"y":197},{"x":62.6,"y":200},{"x":63.1,"y":194},{"x":63.6,"y":195},{"x":64.3,"y":187}],
    "b7": [{"x":8.7,"y":89},{"x":9,"y":83},{"x":9.5,"y":85},{"x":10,"y":76},{"x":10.5,"y":79},{"x":11,"y":70},{"x":11.5,"y":72},{"x":12,"y":65},{"x":12.5,"y":68},{"x":13,"y":60},{"x":13.5,"y":63},{"x":14,"y":56},{"x":14.5,"y":60},{"x":15,"y":54},{"x":15.5,"y":58},{"x":16,"y":53},{"x":16.5,"y":59},{"x":17,"y":55},{"x":17.5,"y":61},{"x":18,"y":57},{"x":18.5,"y":62},{"x":19,"y":58},{"x":19.5,"y":63},{"x":20,"y":61},{"x":20.5,"y":68},{"x":21,"y":69},{"x":21.5,"y":77},{"x":22,"y":78},{"x":22.5,"y":86},{"x":23,"y":87},{"x":23.5,"y":95},{"x":24,"y":96},{"x":24.5,"y":105},{"x":25,"y":108},{"x":25.5,"y":116},{"x":26.1,"y":123},{"x":26.4,"y":136},{"x":26.7,"y":119},{"x":27.2,"y":123},{"x":27.8,"y":133},{"x":28.3,"y":146},{"x":28.8,"y":170},{"x":29.1,"y":186},{"x":29.35,"y":222},{"x":29.7,"y":183},{"x":30,"y":176},{"x":30.5,"y":170},{"x":31,"y":161},{"x":31.5,"y":153},{"x":32,"y":146},{"x":32.5,"y":136},{"x":33,"y":129},{"x":33.5,"y":119},{"x":34,"y":113},{"x":34.5,"y":106},{"x":35,"y":101},{"x":35.5,"y":93},{"x":36,"y":88},{"x":36.5,"y":83},{"x":37,"y":80},{"x":37.5,"y":78},{"x":38,"y":76},{"x":38.5,"y":81},{"x":39,"y":84},{"x":39.5,"y":91},{"x":40,"y":93},{"x":40.5,"y":88},{"x":41,"y":93},{"x":41.5,"y":87},{"x":42,"y":92},{"x":42.5,"y":86},{"x":43,"y":90},{"x":43.5,"y":84},{"x":44,"y":88},{"x":44.5,"y":83},{"x":45,"y":88},{"x":45.5,"y":82},{"x":46,"y":87},{"x":46.5,"y":82},{"x":47,"y":88},{"x":47.5,"y":83},{"x":48,"y":89},{"x":48.5,"y":87},{"x":49.1,"y":93},{"x":49.6,"y":99},{"x":50.1,"y":91},{"x":50.6,"y":81},{"x":51.1,"y":76},{"x":51.6,"y":78},{"x":52.1,"y":72},{"x":52.6,"y":73},{"x":53.1,"y":67},{"x":53.6,"y":70},{"x":54.1,"y":64},{"x":54.6,"y":67},{"x":55.1,"y":62},{"x":55.6,"y":66},{"x":56.1,"y":60},{"x":56.6,"y":65},{"x":57.1,"y":59},{"x":57.6,"y":64},{"x":58.1,"y":60},{"x":58.6,"y":65},{"x":59.1,"y":62},{"x":59.6,"y":67},{"x":60.1,"y":64},{"x":60.6,"y":67},{"x":61.1,"y":61},{"x":61.6,"y":60},{"x":62.1,"y":54},{"x":62.6,"y":57},{"x":63.1,"y":52},{"x":63.6,"y":54},{"x":64.3,"y":50}],
    "ha": [
      {"s":"a1","x":24,"y":1360},{"s":"a1","x":26.7,"y":1428},{"s":"a1","x":28.5,"y":1455},{"s":"a1","x":31.4,"y":1472},{"s":"a1","x":33.7,"y":1469},{"s":"a1","x":36,"y":1446},{"s":"a1","x":38,"y":1419},{"s":"a1","x":39.3,"y":1395},{"s":"a1","x":40.6,"y":1360},
      {"s":"a2","x":24,"y":1146},{"s":"a2","x":26.7,"y":1214},{"s":"a2","x":28.5,"y":1241},{"s":"a2","x":31.4,"y":1258},{"s":"a2","x":33.7,"y":1255},{"s":"a2","x":36,"y":1232},{"s":"a2","x":38,"y":1205},{"s":"a2","x":39.3,"y":1181},{"s":"a2","x":40.6,"y":1146},
      {"s":"a3","x":24,"y":711},{"s":"a3","x":26.7,"y":779},{"s":"a3","x":28.5,"y":806},{"s":"a3","x":31.4,"y":823},{"s":"a3","x":33.7,"y":820},{"s":"a3","x":36,"y":797},{"s":"a3","x":38,"y":770},{"s":"a3","x":39.3,"y":746},{"s":"a3","x":40.6,"y":711},
      {"s":"a4","x":24,"y":466},{"s":"a4","x":26.7,"y":534},{"s":"a4","x":28.5,"y":561},{"s":"a4","x":31.4,"y":578},{"s":"a4","x":33.7,"y":575},{"s":"a4","x":36,"y":552},{"s":"a4","x":38,"y":525},{"s":"a4","x":39.3,"y":501},{"s":"a4","x":40.6,"y":466},
      {"s":"a5","x":24,"y":77},{"s":"a5","x":26.7,"y":145},{"s":"a5","x":28.5,"y":172},{"s":"a5","x":31.4,"y":189},{"s":"a5","x":33.7,"y":186},{"s":"a5","x":36,"y":163},{"s":"a5","x":38,"y":136},{"s":"a5","x":39.3,"y":112},{"s":"a5","x":40.6,"y":77}
    ],
    "hb": [
      {"s":"b1","x":22.9,"y":1167},{"s":"b1","x":23.67,"y":1218},{"s":"b1","x":24.4,"y":1259},{"s":"b1","x":25.25,"y":1299},{"s":"b1","x":26.17,"y":1335},{"s":"b1","x":27.2,"y":1373},{"s":"b1","x":28.42,"y":1401},{"s":"b1","x":29.88,"y":1422},{"s":"b1","x":31.46,"y":1419},{"s":"b1","x":32.92,"y":1396},{"s":"b1","x":34.14,"y":1363},{"s":"b1","x":35.11,"y":1330},{"s":"b1","x":35.96,"y":1289},{"s":"b1","x":36.81,"y":1248},{"s":"b1","x":38,"y":1170},
      {"s":"b2","x":22.9,"y":989},{"s":"b2","x":25,"y":1071},{"s":"b2","x":26.11,"y":1146},{"s":"b2","x":27.14,"y":1185},{"s":"b2","x":28.42,"y":1213},{"s":"b2","x":29.88,"y":1233},{"s":"b2","x":31.46,"y":1231},{"s":"b2","x":32.92,"y":1210},{"s":"b2","x":34.14,"y":1177},{"s":"b2","x":35.11,"y":1144},{"s":"b2","x":35.96,"y":1106},{"s":"b2","x":38,"y":985},
      {"s":"b3","x":22.7,"y":728},{"s":"b3","x":24.7,"y":776},{"s":"b3","x":26.8,"y":814},{"s":"b3","x":29.9,"y":841},{"s":"b3","x":31.9,"y":839},{"s":"b3","x":34.75,"y":814},{"s":"b3","x":37.6,"y":754},{"s":"b3","x":38.2,"y":745},
      {"s":"b4","x":22.5,"y":518},{"s":"b4","x":25.4,"y":565},{"s":"b4","x":27.8,"y":595},{"s":"b4","x":29.9,"y":603},{"s":"b4","x":31.9,"y":599},{"s":"b4","x":35.2,"y":565},{"s":"b4","x":38,"y":522},
      {"s":"b5","x":22.3,"y":359},{"s":"b5","x":25.4,"y":410},{"s":"b5","x":28.2,"y":436},{"s":"b5","x":30.3,"y":440},{"s":"b5","x":32.7,"y":432},{"s":"b5","x":35.6,"y":393},{"s":"b5","x":38,"y":363},
      {"s":"b6","x":22.3,"y":213},{"s":"b6","x":25.4,"y":269},{"s":"b6","x":28.2,"y":295},{"s":"b6","x":31.1,"y":301},{"s":"b6","x":33.5,"y":290},{"s":"b6","x":36,"y":247},{"s":"b6","x":38,"y":222},
      {"s":"b7","x":20.7,"y":50},{"s":"b7","x":23.7,"y":93},{"s":"b7","x":26.6,"y":119},{"s":"b7","x":28.6,"y":127},{"s":"b7","x":31.9,"y":131},{"s":"b7","x":35.2,"y":119},{"s":"b7","x":37.6,"y":93},{"s":"b7","x":39.6,"y":54}
    ],
    "ra": [{"x":11.49,"y":1428,"y2":190},{"x":23.26,"y":1447,"y2":147},{"x":26.7,"y":1511,"y2":198},{"x":29.12,"y":1644,"y2":421},{"x":32.1,"y":1572,"y2":357},{"x":33.75,"y":1592,"y2":186},{"x":34.97,"y":1794,"y2":319},{"x":36,"y":1592,"y2":281},{"x":39.35,"y":1480,"y2":172},{"x":45.13,"y":1571,"y2":160},{"x":49.58,"y":1455,"y2":153}],
    "rb": [{"x":29.42,"y":1814,"y2":123}],
    "pa": [{"x":11.49,"y":1457},{"x":23.26,"y":1476},{"x":26.7,"y":1540},{"x":29.12,"y":1673},{"x":32.1,"y":1601},{"x":33.75,"y":1621},{"x":34.97,"y":1823},{"x":36,"y":1621},{"x":39.35,"y":1509},{"x":45.13,"y":1600},{"x":49.58,"y":1484}],
    "pb": [{"x":29.42,"y":1843}],
    "mka": [
      {"x":11.26,"y":1542,"m":"Hydrotalcite"},{"x":22.72,"y":1619,"m":"Calcite"},{"x":22.53,"y":1550,"m":"Hydrotalcite"},{"x":26.63,"y":1619,"m":"Akermanite"},{"x":29.0,"y":1753,"m":"C-(A)-S-H"},{"x":31.8,"y":1757,"m":"Halite"},{"x":32.0,"y":1685,"m":"C-(A)-S-H"},{"x":33.6,"y":1731,"m":"Akermanite"},{"x":35.0,"y":1890,"m":"Hydrotalcite"},{"x":36.8,"y":1685,"m":"Calcite"},{"x":38.97,"y":1639,"m":"Calcite"},{"x":39.1,"y":1571,"m":"Hydrotalcite"},{"x":44.5,"y":1685,"m":"Chlormagaluminite"},{"x":49.4,"y":1557,"m":"Chlormagaluminite"},
      {"x":50.23,"y":1991,"m":"Hydrotalcite"},{"x":73.14,"y":1991,"m":"Akermanite"},{"x":50.23,"y":1888,"m":"Chlormagaluminite"},{"x":50.31,"y":1774,"m":"Calcite"},{"x":67.2,"y":1788,"m":"Halite"},{"x":50.31,"y":1663,"m":"C-(A)-S-H"},{"x":72.68,"y":1673,"m":"Tobermolite"}
    ],
    "mkb": [{"x":29.35,"y":1922,"m":"C-(A)-S-H"},{"x":26.75,"y":1604,"m":"Halite"},{"x":31.6,"y":1632,"m":"Halite"},{"x":45.55,"y":1440,"m":"Halite"},{"x":24.37,"y":1483,"m":"Tobermolite"}],
    "lbox": [{"x":48.58,"x2":92.3,"y":2050,"y2":1599}],
    "ltext": [{"x":52.45,"y":1965,"t":"Hydrotalcite"},{"x":75.48,"y":1965,"t":"Akermanite"},{"x":52.41,"y":1863,"t":"Chlormagaluminite"},{"x":52.45,"y":1744,"t":"Calcite"},{"x":70.38,"y":1766,"t":"Halite"},{"x":53.64,"y":1634,"t":"C-(A)-S-H"},{"x":74.52,"y":1643,"t":"Tobermolite"}],
    "boxa": [{"x":5.29,"x2":11.23,"y":1807,"y2":1668}],
    "boxb": [{"x":54.53,"x2":60.07,"y":1807,"y2":1669}],
    "taga": [{"x":8.4,"y":1704,"t":"a"}],
    "tagb": [{"x":57.3,"y":1690,"t":"b"}],
    "la": [
      {"x":56.48,"y":1483,"t":"G","k":"m"},{"x":59.16,"y":1483,"t":"0","k":"s"},{"x":60.46,"y":1483,"t":"-Cl","k":"m"},{"x":65.29,"y":1483,"t":"15.2","k":"s"},
      {"x":56.48,"y":1259,"t":"G","k":"m"},{"x":59.16,"y":1259,"t":"0","k":"s"},{"x":60.46,"y":1259,"t":"-Cl","k":"m"},{"x":65.29,"y":1259,"t":"1.7","k":"s"},
      {"x":56.48,"y":818,"t":"G","k":"m"},{"x":59.16,"y":818,"t":"0","k":"s"},{"x":60.46,"y":818,"t":"-S","k":"m"},{"x":63.8,"y":818,"t":"9","k":"s"},
      {"x":56.48,"y":568,"t":"G","k":"m"},{"x":59.16,"y":568,"t":"0","k":"s"},{"x":60.46,"y":568,"t":"-S","k":"m"},{"x":63.8,"y":568,"t":"1","k":"s"},
      {"x":56.48,"y":214,"t":"G","k":"m"},{"x":59.16,"y":214,"t":"0","k":"s"},{"x":60.46,"y":214,"t":"-0","k":"m"}
    ],
    "lb": [
      {"x":6.83,"y":1306,"t":"G","k":"m"},{"x":9.45,"y":1306,"t":"1.5","k":"s"},{"x":12.4,"y":1306,"t":"-Cl","k":"m"},{"x":16.85,"y":1306,"t":"15.2","k":"s"},
      {"x":6.83,"y":1011,"t":"G","k":"m"},{"x":9.45,"y":1011,"t":"1.5","k":"s"},{"x":12.4,"y":1011,"t":"-Cl","k":"m"},{"x":16.85,"y":1011,"t":"8.5","k":"s"},
      {"x":6.83,"y":771,"t":"G","k":"m"},{"x":9.45,"y":771,"t":"1.5","k":"s"},{"x":12.4,"y":771,"t":"-Cl","k":"m"},{"x":16.85,"y":771,"t":"1.7","k":"s"},
      {"x":6.83,"y":594,"t":"G","k":"m"},{"x":9.45,"y":594,"t":"1.5","k":"s"},{"x":12.4,"y":594,"t":"-S","k":"m"},{"x":15.62,"y":594,"t":"9","k":"s"},
      {"x":6.83,"y":419,"t":"G","k":"m"},{"x":9.45,"y":419,"t":"1.5","k":"s"},{"x":12.4,"y":419,"t":"-S","k":"m"},{"x":15.62,"y":419,"t":"5","k":"s"},
      {"x":6.83,"y":249,"t":"G","k":"m"},{"x":9.45,"y":249,"t":"1.5","k":"s"},{"x":12.4,"y":249,"t":"-S","k":"m"},{"x":15.62,"y":249,"t":"1","k":"s"},
      {"x":6.83,"y":121,"t":"G","k":"m"},{"x":9.45,"y":121,"t":"1.5","k":"s"},{"x":12.4,"y":121,"t":"-0","k":"m"}
    ],
    "shaft": [{"x":3.07,"y":934,"y2":1290}],
    "head": [{"x":3.07,"y":1321}],
    "ylab": [{"x":4.31,"y":466,"t":"Intensity (a.u.)"}]
  },
  "resolve": {"scale": {"x": "independent"}, "axis": {"x": "independent"}},
  "layer": [
    {
      "encoding": {
        "x": {
          "field": "x", "type": "quantitative",
          "scale": {"domain": [7.28, 65.4], "range": [74, 1591], "nice": false, "zero": false},
          "axis": {
            "orient": "bottom", "title": "2θ (°)", "titleX": 800,
            "values": [10,12,14,16,18,20,22,24,26,28,30,32,34,36,38,40,42,44,46,48,50,52,54,56,58,60,62],
            "labelExpr": "datum.value % 10 === 0 ? datum.label : ''"
          }
        },
        "y": {"field": "y", "type": "quantitative", "scale": {"domain": [0, 2071], "nice": false, "zero": false}, "axis": null}
      },
      "layer": [
        {"data": {"name": "a1"}, "mark": {"type": "line", "color": "#0b48a2"}},
        {"data": {"name": "a2"}, "mark": {"type": "line", "color": "#29b829"}},
        {"data": {"name": "a3"}, "mark": {"type": "line", "color": "#0b48a2"}},
        {"data": {"name": "a4"}, "mark": {"type": "line", "color": "#29b829"}},
        {"data": {"name": "a5"}, "mark": {"type": "line", "color": "#000000"}},
        {"data": {"name": "ha"}, "mark": {"type": "line", "color": "#ff1a1a", "strokeWidth": 6, "strokeDash": [14, 11], "interpolate": "monotone"}, "encoding": {"detail": {"field": "s"}}},
        {"data": {"name": "ra"}, "mark": {"type": "rule", "color": "#ff1a1a", "strokeWidth": 6, "strokeDash": [18, 9]}, "encoding": {"y2": {"field": "y2"}}},
        {"data": {"name": "pa"}, "mark": {"type": "point", "shape": "M0,-1L0.8,1L-0.8,1Z", "size": 3364, "color": "#ff1a1a"}},
        {"data": {"name": "lbox"}, "mark": {"type": "rect", "fill": "white", "stroke": "black", "strokeWidth": 8}, "encoding": {"x2": {"field": "x2"}, "y2": {"field": "y2"}}},
        {"data": {"name": "boxa"}, "mark": {"type": "rect", "fill": "white", "stroke": "black", "strokeWidth": 4}, "encoding": {"x2": {"field": "x2"}, "y2": {"field": "y2"}}},
        {"data": {"name": "taga"}, "mark": {"type": "text", "align": "center", "baseline": "alphabetic", "fontSize": 130}, "encoding": {"text": {"field": "t"}}},
        {"data": {"name": "mka"}, "transform": [{"filter": "datum.m === 'Hydrotalcite'"}], "mark": {"type": "point", "shape": "square", "size": 1936}},
        {"data": {"name": "mka"}, "transform": [{"filter": "datum.m === 'Akermanite'"}], "mark": {"type": "point", "shape": "diamond", "size": 3844}},
        {"data": {"name": "mka"}, "transform": [{"filter": "datum.m === 'Chlormagaluminite'"}], "mark": {"type": "point", "shape": "M0,-1L0.2245,-0.309L0.951,-0.309L0.363,0.118L0.588,0.809L0,0.382L-0.588,0.809L-0.363,0.118L-0.951,-0.309L-0.2245,-0.309Z", "size": 5600}},
        {"data": {"name": "mka"}, "transform": [{"filter": "datum.m === 'Calcite'"}], "mark": {"type": "point", "shape": "triangle-up", "size": 3136}},
        {"data": {"name": "mka"}, "transform": [{"filter": "datum.m === 'Halite'"}], "mark": {"type": "point", "shape": "triangle-down", "size": 3136}},
        {"data": {"name": "mka"}, "transform": [{"filter": "datum.m === 'C-(A)-S-H'"}], "mark": {"type": "point", "shape": "circle", "size": 2601}},
        {"data": {"name": "mka"}, "transform": [{"filter": "datum.m === 'Tobermolite'"}], "mark": {"type": "point", "shape": "M0,-1L0.951,-0.309L0.588,0.809L-0.588,0.809L-0.951,-0.309Z", "size": 3600}},
        {"data": {"name": "ltext"}, "mark": {"type": "text", "align": "left", "baseline": "alphabetic", "fontSize": 84}, "encoding": {"text": {"field": "t"}}},
        {"data": {"name": "la"}, "transform": [{"filter": "datum.k === 'm'"}], "mark": {"type": "text", "align": "left", "baseline": "alphabetic", "fontSize": 92}, "encoding": {"text": {"field": "t"}}},
        {"data": {"name": "la"}, "transform": [{"filter": "datum.k === 's'"}], "mark": {"type": "text", "align": "left", "baseline": "alphabetic", "fontSize": 60, "dy": 27}, "encoding": {"text": {"field": "t"}}}
      ]
    },
    {
      "encoding": {
        "x": {
          "field": "x", "type": "quantitative",
          "scale": {"domain": [6.93, 66.53], "range": [1848, 3481], "nice": false, "zero": false},
          "axis": {
            "orient": "bottom", "title": "2θ (°)", "titleX": 2621,
            "values": [10,12,14,16,18,20,22,24,26,28,30,32,34,36,38,40,42,44,46,48,50,52,54,56,58,60,62,64],
            "labelExpr": "datum.value % 10 === 0 ? datum.label : ''"
          }
        },
        "y": {"field": "y", "type": "quantitative", "scale": {"domain": [0, 2071], "nice": false, "zero": false}, "axis": null}
      },
      "layer": [
        {"data": {"name": "b1"}, "mark": {"type": "line", "color": "#9a4ea5"}},
        {"data": {"name": "b2"}, "mark": {"type": "line", "color": "#0b48a2"}},
        {"data": {"name": "b3"}, "mark": {"type": "line", "color": "#29b829"}},
        {"data": {"name": "b4"}, "mark": {"type": "line", "color": "#9a4ea5"}},
        {"data": {"name": "b5"}, "mark": {"type": "line", "color": "#0b48a2"}},
        {"data": {"name": "b6"}, "mark": {"type": "line", "color": "#29b829"}},
        {"data": {"name": "b7"}, "mark": {"type": "line", "color": "#000000"}},
        {"data": {"name": "hb"}, "mark": {"type": "line", "color": "#ff1a1a", "strokeWidth": 6, "strokeDash": [14, 11], "interpolate": "monotone"}, "encoding": {"detail": {"field": "s"}}},
        {"data": {"name": "rb"}, "mark": {"type": "rule", "color": "#ff1a1a", "strokeWidth": 7, "strokeDash": [20, 10]}, "encoding": {"y2": {"field": "y2"}}},
        {"data": {"name": "pb"}, "mark": {"type": "point", "shape": "M0,-1L0.8,1L-0.8,1Z", "size": 3600, "color": "#ff1a1a"}},
        {"data": {"name": "boxb"}, "mark": {"type": "rect", "fill": "white", "stroke": "black", "strokeWidth": 4}, "encoding": {"x2": {"field": "x2"}, "y2": {"field": "y2"}}},
        {"data": {"name": "tagb"}, "mark": {"type": "text", "align": "center", "baseline": "alphabetic", "fontSize": 132}, "encoding": {"text": {"field": "t"}}},
        {"data": {"name": "mkb"}, "transform": [{"filter": "datum.m === 'Halite'"}], "mark": {"type": "point", "shape": "triangle-down", "size": 3136}},
        {"data": {"name": "mkb"}, "transform": [{"filter": "datum.m === 'C-(A)-S-H'"}], "mark": {"type": "point", "shape": "circle", "size": 2800}},
        {"data": {"name": "mkb"}, "transform": [{"filter": "datum.m === 'Tobermolite'"}], "mark": {"type": "point", "shape": "M0,-1L0.951,-0.309L0.588,0.809L-0.588,0.809L-0.951,-0.309Z", "size": 3600}},
        {"data": {"name": "shaft"}, "mark": {"type": "rule", "color": "#111111", "strokeWidth": 15}, "encoding": {"y2": {"field": "y2"}}},
        {"data": {"name": "head"}, "mark": {"type": "point", "shape": "M0,-1L0.86,1L0,0.72L-0.86,1Z", "size": 8464}},
        {"data": {"name": "ylab"}, "mark": {"type": "text", "align": "center", "baseline": "alphabetic", "angle": 270, "fontSize": 108}, "encoding": {"text": {"field": "t"}}},
        {"data": {"name": "lb"}, "transform": [{"filter": "datum.k === 'm'"}], "mark": {"type": "text", "align": "left", "baseline": "alphabetic", "fontSize": 92}, "encoding": {"text": {"field": "t"}}},
        {"data": {"name": "lb"}, "transform": [{"filter": "datum.k === 's'"}], "mark": {"type": "text", "align": "left", "baseline": "alphabetic", "fontSize": 60, "dy": 22}, "encoding": {"text": {"field": "t"}}}
      ]
    }
  ]
}
